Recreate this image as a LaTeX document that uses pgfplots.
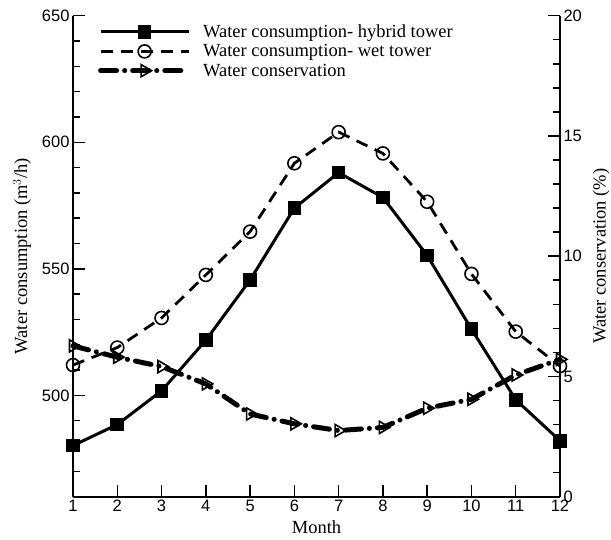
\documentclass[border=0pt]{standalone}
\usepackage{pgfplots}
\pgfplotsset{compat=1.18}
\usepackage{fontspec}
\setmainfont{Liberation Serif}
\newfontfamily\arialfont{Liberation Sans}

\pgfplotsset{
  twin/.style={
    scale only axis, width=487pt, height=481pt,
    xmin=1, xmax=12, clip=false,
    tick align=inside,
    major tick length=12pt, minor tick length=7pt,
    tick style={line width=1.5pt, black},
    axis line style={line width=2pt},
    ticklabel style={font=\arialfont\fontsize{16.5}{16.5}\selectfont},
    /pgf/number format/assume math mode=true,
    label style={font=\fontsize{18.5}{20}\selectfont},
  },
  hybrid/.style={black, line width=3pt, mark=square*, mark size=5.3pt, mark options={solid}},
  wet/.style={black, line width=2.8pt, dash pattern=on 12pt off 8pt, mark=o, mark size=6.5pt,
    mark options={solid, line width=1.6pt}},
  saving/.style={black, line width=5pt, line cap=round, dash pattern=on 16pt off 8pt on 0.1pt off 8pt,
    mark=triangle, mark size=7pt, mark options={solid, rotate=-90, line width=1.6pt, line cap=butt}},
}

\begin{document}
\begin{tikzpicture}
\begin{axis}[twin,
  ymin=460, ymax=650,
  ytick={500,550,600,650}, minor ytick={470,480,...,640},
  xtick={1,...,12},
  axis x line*=bottom, axis y line*=left,
  xlabel={Month}, xlabel shift=2pt,
  ylabel={Water consumption (m$^3$/h)}, ylabel shift=4pt,
  legend style={draw=none, fill=none, at={(rel axis cs:0.045,0.99)}, anchor=north west,
    font=\fontsize{18.5}{20}\selectfont, row sep=1.5pt,
    nodes={inner sep=2pt},
    /tikz/every odd column/.append style={column sep=10pt}},
  legend cell align=left,
  legend image code/.code={\draw[mark repeat=2, mark phase=2]
    plot coordinates {(0pt,0pt) (44pt,0pt) (88pt,0pt)};},
]
\addplot[hybrid] coordinates {(1,480.2) (2,488.5) (3,501.8) (4,521.8) (5,545.6) (6,574.0)
  (7,588.0) (8,578.2) (9,555.3) (10,526.2) (11,498.3) (12,482.1)};
\addlegendentry{Water consumption- hybrid tower}
\addplot[wet] coordinates {(1,512.0) (2,518.9) (3,530.6) (4,547.6) (5,564.7) (6,591.7)
  (7,604.0) (8,595.6) (9,576.5) (10,548.0) (11,525.2) (12,511.6)};
\addlegendentry{Water consumption- wet tower}
\addlegendimage{saving}
\addlegendentry{Water conservation}
\end{axis}
\begin{axis}[twin,
  ymin=0, ymax=20,
  ytick={0,5,10,15,20}, minor ytick={1,...,19},
  axis x line=none, axis y line*=right,
  ylabel={Water conservation (\%)}, ylabel shift=4pt,
]
\addplot[saving] coordinates {(1,6.27) (2,5.80) (3,5.41) (4,4.69) (5,3.44) (6,3.03)
  (7,2.75) (8,2.88) (9,3.68) (10,4.05) (11,5.06) (12,5.71)};
\end{axis}
\pgfresetboundingbox
\path ([shift={(-73pt,-43.3pt)}]current axis.south west) rectangle ([shift={(51pt,15.7pt)}]current axis.north east);
\end{tikzpicture}
\end{document}
